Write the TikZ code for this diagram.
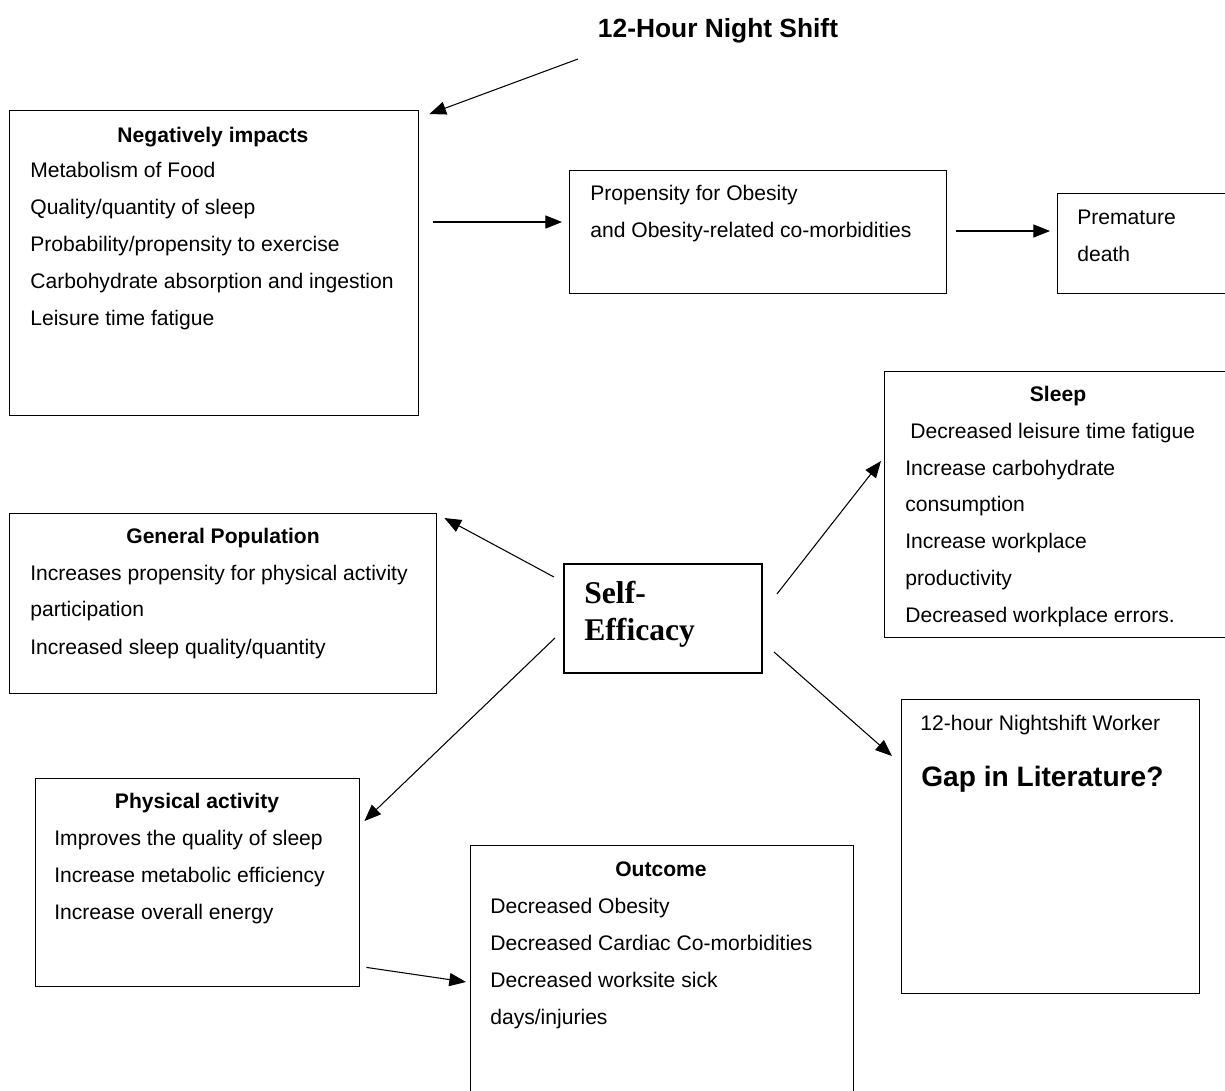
\documentclass[tikz,border=0pt]{standalone}
\usepackage{fontspec}
\setmainfont{Liberation Sans}
\newfontfamily\timesbold{Liberation Serif}
\usetikzlibrary{arrows.meta}

\tikzset{
  box/.style 2 args={draw, line width=0.8pt, anchor=north west, inner sep=0,
    minimum width=#1*0.02cm, minimum height=#2*0.02cm},
  txt/.style={anchor=base west, inner sep=0},
  hd/.style={anchor=base, inner sep=0, font=\fontsize{12}{14}\selectfont\bfseries},
  arr/.style={line width=0.6pt, -{Triangle[length=9.5pt,width=7.5pt]}}
}

\begin{document}
\begin{tikzpicture}[x=0.02cm, y=-0.02cm, font=\fontsize{12}{14}\selectfont]
  \useasboundingbox (0,0) rectangle (1225,1090);

  % title
  \node [hd, font=\fontsize{15}{18}\selectfont\bfseries] (title) at (718,37) {12-Hour Night Shift};

  % top row
  \node [box={409}{305}] (neg) at (9,110) {};
  \node [hd] (neg0) at (213,142) {Negatively impacts};
  \node [txt] (neg1) at (30,177) {Metabolism of Food};
  \node [txt] (neg2) at (30,214) {Quality/quantity of sleep};
  \node [txt] (neg3) at (30,251) {Probability/propensity to exercise};
  \node [txt] (neg4) at (30,288) {Carbohydrate absorption and ingestion};
  \node [txt] (neg5) at (30,325) {Leisure time fatigue};

  \node [box={377}{123}] (prop) at (569,170) {};
  \node [txt] (prop1) at (590,200) {Propensity for Obesity};
  \node [txt] (prop2) at (590,237) {and Obesity-related co-morbidities};

  \node [box={180}{100}] (prem) at (1057,193) {};
  \node [txt] (prem1) at (1077,224) {Premature};
  \node [txt] (prem2) at (1077,261) {death};

  % middle
  \node [box={346}{266}] (sleep) at (884,371) {};
  \node [hd] (sleep0) at (1058,401) {Sleep};
  \node [txt] (sleep1) at (910,438) {Decreased leisure time fatigue};
  \node [txt] (sleep2) at (905,475) {Increase carbohydrate};
  \node [txt] (sleep3) at (905,511) {consumption};
  \node [txt] (sleep4) at (905,548) {Increase workplace};
  \node [txt] (sleep5) at (905,585) {productivity};
  \node [txt] (sleep6) at (905,622) {Decreased workplace errors.};

  \node [box={427}{180}] (gen) at (9,513) {};
  \node [hd] (gen0) at (223,543) {General Population};
  \node [txt] (gen1) at (30,580) {Increases propensity for physical activity};
  \node [txt] (gen2) at (30,616) {participation};
  \node [txt] (gen3) at (30,654) {Increased sleep quality/quantity};

  \node [box={198}{109}, line width=1.1pt] (self) at (563,563) {};
  \node [txt, font=\fontsize{18}{20}\timesbold\bfseries] (self1) at (584,603) {Self-};
  \node [txt, font=\fontsize{18}{20}\timesbold\bfseries] (self2) at (584,640) {Efficacy};

  % bottom
  \node [box={298}{294}] (gap) at (901,699) {};
  \node [txt] (gap1) at (920,730) {12-hour Nightshift Worker};
  \node [txt, font=\fontsize{16}{18}\selectfont\bfseries] (gap2) at (921,786) {Gap in Literature?};

  \node [box={324}{208}] (phys) at (35,778) {};
  \node [hd] (phys0) at (197,808) {Physical activity};
  \node [txt] (phys1) at (54,845) {Improves the quality of sleep};
  \node [txt] (phys2) at (54,882) {Increase metabolic efficiency};
  \node [txt] (phys3) at (54,919) {Increase overall energy};

  \node [box={383}{260}] (out) at (470,845) {};
  \node [hd] (out0) at (661,876) {Outcome};
  \node [txt] (out1) at (490,913) {Decreased Obesity};
  \node [txt] (out2) at (490,950) {Decreased Cardiac Co-morbidities};
  \node [txt] (out3) at (490,987) {Decreased worksite sick};
  \node [txt] (out4) at (490,1024) {days/injuries};

  % arrows
  \draw [arr] ([shift={(-140,22)}]title.base) -- ([shift={(10,4)}]neg.north east);
  \draw [arr] ([shift={(14,112)}]neg.north east) -- ([shift={(-7,52)}]prop.north west);
  \draw [arr] ([shift={(9,61)}]prop.north east) -- ([shift={(-7,38)}]prem.north west);
  \draw [arr] ([shift={(-9,14)}]self.north west) -- ([shift={(7,5)}]gen.north east);
  \draw [arr] ([shift={(14,31)}]self.north east) -- ([shift={(-3,90)}]sleep.north west);
  \draw [arr] ([shift={(-8,-36)}]self.south west) -- ([shift={(4,43)}]phys.north east);
  \draw [arr] ([shift={(11,-22)}]self.south east) -- ([shift={(-9,57)}]gap.north west);
  \draw [arr] ([shift={(6,-20)}]phys.south east) -- ([shift={(-4,137)}]out.north west);
\end{tikzpicture}
\end{document}
